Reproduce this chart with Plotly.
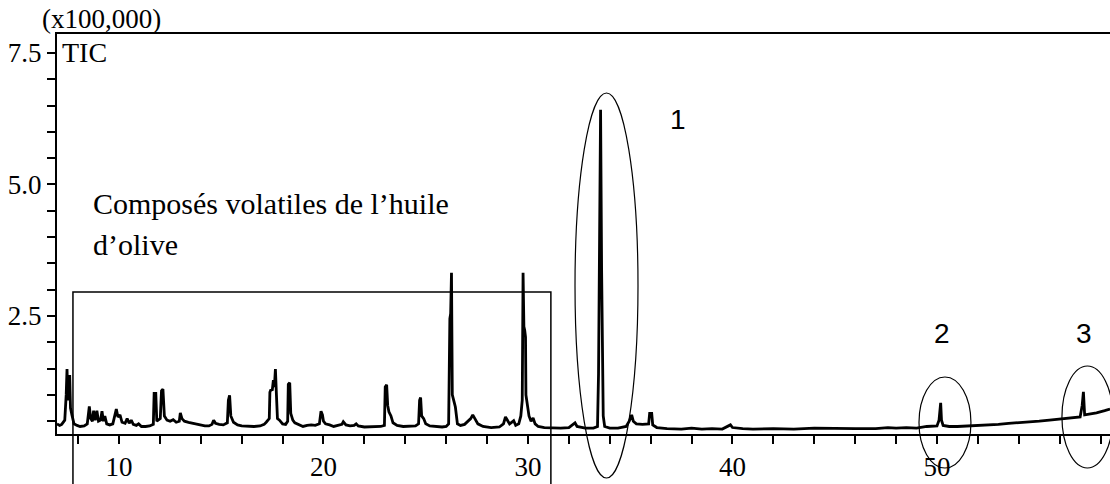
import plotly.graph_objects as go

# Retention time (min) and TIC intensity (x100,000)
rt_min = [
    6.97, 7.1, 7.2, 7.35, 7.42, 7.46, 7.5, 7.55, 7.59, 7.63, 7.7, 7.8, 7.95, 8.1, 8.3, 8.45,
    8.55, 8.62, 8.7, 8.76, 8.84, 8.92, 9.0, 9.1, 9.17, 9.24, 9.31, 9.4, 9.55, 9.7, 9.87, 9.95,
    10.05, 10.15, 10.3, 10.4, 10.5, 10.6, 10.7, 10.85, 10.96, 11.1, 11.3, 11.5, 11.68, 11.72,
    11.8, 11.85, 12.02, 12.08, 12.15, 12.22, 12.35, 12.5, 12.65, 12.8, 12.95, 13.0, 13.08,
    13.2, 13.4, 13.6, 13.8, 14.0, 14.2, 14.4, 14.55, 14.63, 14.72, 14.9, 15.1, 15.3, 15.35,
    15.41, 15.47, 15.6, 15.8, 16.0, 16.3, 16.6, 16.9, 17.1, 17.2, 17.35, 17.38, 17.42, 17.5,
    17.55, 17.6, 17.65, 17.7, 17.75, 17.85, 18.0, 18.15, 18.25, 18.28, 18.35, 18.4, 18.5,
    18.6, 18.8, 19.0, 19.2, 19.4, 19.6, 19.8, 19.88, 19.95, 20.0, 20.1, 20.3, 20.5, 20.7,
    20.9, 20.97, 21.1, 21.3, 21.5, 21.6, 21.7, 22.0, 22.4, 22.8, 22.98, 23.02, 23.09, 23.14,
    23.2, 23.3, 23.4, 23.6, 23.9, 24.2, 24.5, 24.65, 24.7, 24.75, 24.8, 24.9, 25.0, 25.2,
    25.5, 25.8, 26.0, 26.12, 26.18, 26.22, 26.26, 26.3, 26.4, 26.45, 26.55, 26.7, 26.9, 27.0,
    27.2, 27.3, 27.4, 27.55, 27.8, 28.2, 28.6, 28.8, 28.9, 29.0, 29.1, 29.2, 29.3, 29.4,
    29.55, 29.65, 29.72, 29.76, 29.8, 29.84, 29.88, 29.9, 29.95, 30.05, 30.15, 30.25, 30.35,
    30.5, 30.8, 31.2, 31.6, 32.0, 32.3, 32.4, 32.8, 33.2, 33.4, 33.45, 33.5, 33.55, 33.6,
    33.64, 33.68, 33.75, 34.0, 34.4, 34.8, 34.95, 35.07, 35.15, 35.3, 35.6, 35.9, 35.95,
    36.05, 36.1, 36.3, 36.8, 37.5, 38.0, 38.5, 39.0, 39.5, 39.9, 40.0, 40.5, 41.0, 42.0,
    43.0, 44.0, 45.0, 46.0, 47.0, 47.6, 48.0, 48.5, 49.0, 49.5, 50.0, 50.1, 50.18, 50.22,
    50.3, 50.6, 51.0, 51.6, 52.0, 52.5, 53.0, 53.5, 54.0, 54.5, 55.0, 55.5, 56.0, 56.5,
    57.0, 57.1, 57.16, 57.22, 57.4, 57.8, 58.2, 58.46,
]
tic_x1e5 = [
    0.45, 0.42, 0.44, 0.52, 1.0, 1.49, 0.9, 1.0, 1.38, 0.75, 0.62, 0.45, 0.42, 0.40, 0.41, 0.45,
    0.78, 0.55, 0.50, 0.70, 0.52, 0.70, 0.50, 0.52, 0.69, 0.50, 0.60, 0.45, 0.43, 0.45, 0.73, 0.58,
    0.62, 0.48, 0.46, 0.55, 0.46, 0.52, 0.44, 0.42, 0.45, 0.40, 0.40, 0.41, 0.44, 1.03,
    1.03, 0.50, 0.55, 1.08, 1.11, 0.60, 0.52, 0.50, 0.53, 0.48, 0.50, 0.66, 0.55,
    0.50, 0.48, 0.46, 0.44, 0.43, 0.41, 0.41, 0.44, 0.52, 0.46, 0.44, 0.43, 0.47, 0.90,
    0.99, 0.60, 0.48, 0.43, 0.41, 0.40, 0.40, 0.41, 0.44, 0.48, 0.55, 1.05, 1.09, 1.10,
    1.28, 1.15, 1.49, 1.00, 0.55, 0.52, 0.45, 0.44, 0.50, 1.20, 1.23, 0.65, 0.52,
    0.47, 0.44, 0.40, 0.42, 0.43, 0.42, 0.45, 0.69, 0.62, 0.50, 0.45, 0.43, 0.40, 0.42,
    0.44, 0.49, 0.43, 0.41, 0.42, 0.45, 0.41, 0.39, 0.39, 0.40, 0.42, 1.15, 1.19, 0.80,
    0.68, 0.60, 0.47, 0.42, 0.40, 0.40, 0.41, 0.45, 0.90, 0.95, 0.60, 0.55, 0.45, 0.41,
    0.40, 0.39, 0.40, 0.45, 2.45, 2.55, 3.32, 1.00, 0.85, 0.77, 0.45, 0.42, 0.44, 0.48,
    0.55, 0.62, 0.55, 0.45, 0.40, 0.38, 0.39, 0.45, 0.58, 0.50, 0.45, 0.48, 0.51, 0.42,
    0.45, 0.60, 0.90, 3.32, 2.30, 2.23, 2.10, 1.00, 0.85, 0.60, 0.50, 0.56, 0.45,
    0.40, 0.38, 0.37, 0.37, 0.38, 0.47, 0.40, 0.37, 0.37, 0.40, 1.40, 3.56, 6.42, 3.40,
    1.20, 0.60, 0.40, 0.37, 0.37, 0.40, 0.50, 0.62, 0.50, 0.45, 0.44, 0.45, 0.65,
    0.65, 0.43, 0.38, 0.36, 0.35, 0.37, 0.35, 0.36, 0.35, 0.43, 0.38, 0.36, 0.35, 0.36,
    0.35, 0.37, 0.36, 0.36, 0.36, 0.38, 0.37, 0.38, 0.37, 0.40, 0.41, 0.52, 0.85, 0.52,
    0.42, 0.40, 0.40, 0.41, 0.42, 0.43, 0.44, 0.46, 0.47, 0.49, 0.50, 0.52, 0.54, 0.55,
    0.58, 0.80, 1.06, 0.62, 0.63, 0.66, 0.70, 0.73,
]

x_tickvals = [10, 20, 30, 40, 50]
x_ticktext = ["10", "20", "30", "40", "50"]
y_tickvals = [2.5, 5.0, 7.5]
y_ticktext = ["2.5", "5.0", "7.5"]

SERIF = "Liberation Serif, Times New Roman, serif"
SANS = "Liberation Sans, Arial, sans-serif"

fig = go.Figure()
fig.add_trace(go.Scatter(
    x=rt_min, y=tic_x1e5, mode="lines",
    line=dict(color="black", width=2.8), showlegend=False, hoverinfo="skip",
))

fig.update_layout(
    width=1110, height=484,
    margin=dict(l=57, r=0, t=34, b=50),
    paper_bgcolor="white", plot_bgcolor="white",
    font=dict(family=SERIF, size=26, color="black"),
    xaxis=dict(
        range=[6.97, 58.46], showgrid=False, zeroline=False,
        showline=True, linecolor="black", linewidth=2, mirror=True,
        ticks="outside", ticklen=8, tickwidth=2, tickcolor="black",
        tickvals=x_tickvals, ticktext=x_ticktext,
        minor=dict(dtick=2, tick0=0, ticks="outside", ticklen=8, tickwidth=2, tickcolor="black"),
        tickfont=dict(family=SERIF, size=27),
    ),
    yaxis=dict(
        range=[0.257, 7.86], showgrid=False, zeroline=False,
        showline=True, linecolor="black", linewidth=2,
        ticks="outside", ticklen=8, tickwidth=2, tickcolor="black",
        tickvals=y_tickvals, ticktext=y_ticktext,
        minor=dict(dtick=0.5, tick0=0, ticks="outside", ticklen=8, tickwidth=2, tickcolor="black"),
        tickfont=dict(family=SERIF, size=27),
    ),
)

# Box around the volatile-compound region
fig.add_shape(type="rect", xref="x", yref="paper", x0=7.75, x1=31.12, y0=0.355, y1=-0.2,
              line=dict(color="black", width=1.5), fillcolor="rgba(0,0,0,0)")
# Ellipses around peaks 1, 2, 3
fig.add_shape(type="circle", xref="x", yref="paper", x0=32.30, x1=35.38, y0=0.8525, y1=-0.11,
              line=dict(color="black", width=1.2))
fig.add_shape(type="circle", xref="x", yref="paper", x0=49.12, x1=51.66, y0=0.1425, y1=-0.085,
              line=dict(color="black", width=1.2))
fig.add_shape(type="circle", xref="x", yref="paper", x0=56.11, x1=58.60, y0=0.17, y1=-0.085,
              line=dict(color="black", width=1.2))

def ann(text, x, y, xanchor="left", family=SERIF, size=26):
    fig.add_annotation(text=text, x=x, y=y, xref="paper", yref="paper",
                       xanchor=xanchor, yanchor="middle", showarrow=False,
                       font=dict(family=family, size=size, color="black"))

ann("(x100,000)", -0.0162, 1.0375, size=27)
ann("TIC", 0.0027, 0.9525, size=28)
ann("Composés volatiles de l\u2019huile", 0.0322, 0.577, size=30)
ann("d\u2019olive", 0.0322, 0.4745, size=30)
ann("1", 0.5897, 0.785, xanchor="center", family=SANS, size=28)
ann("2", 0.8405, 0.2525, xanchor="center", family=SANS, size=28)
ann("3", 0.9753, 0.2525, xanchor="center", family=SANS, size=28)

fig.write_html("out.html")
